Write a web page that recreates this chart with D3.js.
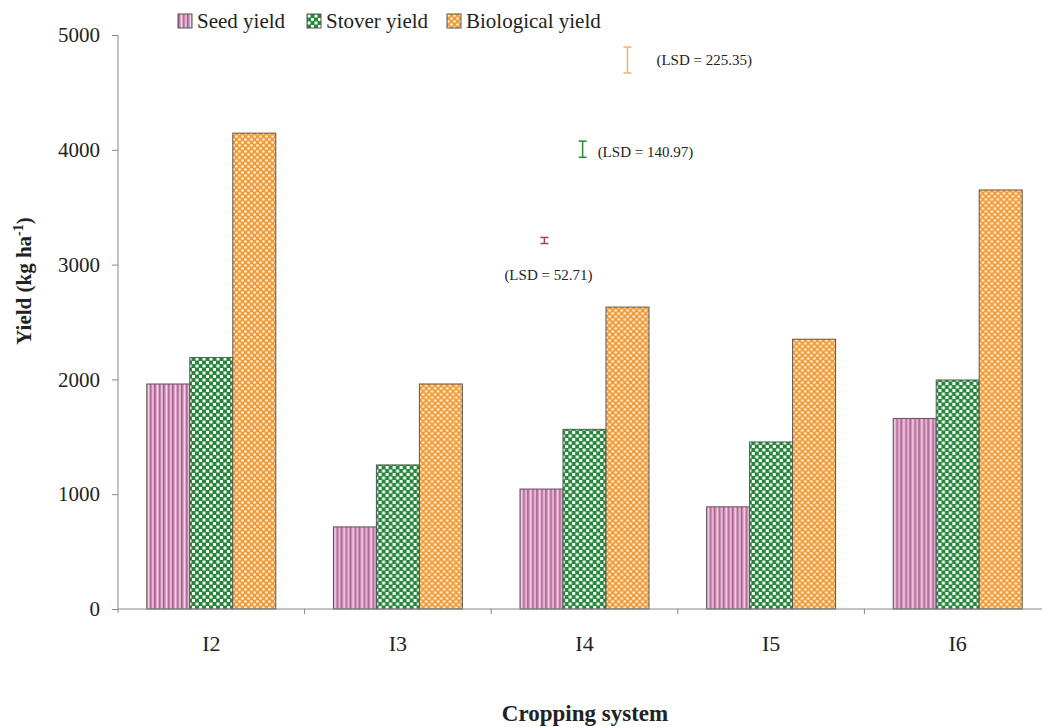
<!DOCTYPE html>
<html lang="en">
<head>
<meta charset="UTF-8">
<title>Yield by cropping system</title>
<script src="https://d3js.org/d3.v7.min.js"></script>
<style>
body { margin: 0; background: #fff; }
svg { display: block; font-family: "Liberation Serif", "Times New Roman", serif; }
</style>
</head>
<body>
<svg></svg>
<script>
// data
const systems = ["I2", "I3", "I4", "I5", "I6"];
const seedYield = [1960, 715, 1045, 890, 1660];
const stoverYield = [2190, 1255, 1565, 1455, 1995];
const bioYield = [4145, 1960, 2630, 2350, 3650];
const seriesNames = ["Seed yield", "Stover yield", "Biological yield"];
const yTicks = [0, 1000, 2000, 3000, 4000, 5000];
// LSD bars: value, centre on the y scale, label
const lsdValues = [52.71, 140.97, 225.35];
const lsdCentres = [3210, 4005, 4782];
const lsdLabels = ["(LSD = 52.71)", "(LSD = 140.97)", "(LSD = 225.35)"];

const width = 1042, height = 727;
const svg = d3.select("svg").attr("width", width).attr("height", height);

// patterns
const defs = svg.append("defs");
let p = defs.append("pattern").attr("id", "pat0").attr("patternUnits", "userSpaceOnUse")
  .attr("width", 9).attr("height", 4);
p.append("rect").attr("width", 9).attr("height", 4).attr("fill", "#d9a3c6");
p.append("rect").attr("x", 0).attr("width", 1.5).attr("height", 4).attr("fill", "#a9578a");
p.append("rect").attr("x", 3).attr("width", 1).attr("height", 4).attr("fill", "#f0d6e6");
p.append("rect").attr("x", 5).attr("width", 1.5).attr("height", 4).attr("fill", "#b8689a");
p.append("rect").attr("x", 7.5).attr("width", 1).attr("height", 4).attr("fill", "#eccbe0");

p = defs.append("pattern").attr("id", "pat1").attr("patternUnits", "userSpaceOnUse")
  .attr("width", 7).attr("height", 7);
p.append("rect").attr("width", 7).attr("height", 7).attr("fill", "#24873a");
p.append("rect").attr("x", 0.5).attr("y", 0.5).attr("width", 3).attr("height", 3).attr("fill", "#ffffff");
p.append("rect").attr("x", 4).attr("y", 4).attr("width", 3).attr("height", 3).attr("fill", "#ffffff");

p = defs.append("pattern").attr("id", "pat2").attr("patternUnits", "userSpaceOnUse")
  .attr("width", 6).attr("height", 6);
p.append("rect").attr("width", 6).attr("height", 6).attr("fill", "#f19c3a");
p.append("circle").attr("cx", 1.5).attr("cy", 1.5).attr("r", 1.3).attr("fill", "#fff3e0");
p.append("circle").attr("cx", 4.5).attr("cy", 4.5).attr("r", 1.3).attr("fill", "#fff3e0");

const fills = ["url(#pat0)", "url(#pat1)", "url(#pat2)"];
const lsdColors = ["#a0406f", "#2a8a3a", "#f0b070"];

// scales
const x = d3.scaleBand().domain(systems).range([118, 1051]).paddingInner(0).paddingOuter(0);
const x1 = d3.scaleBand().domain(seriesNames).range([0, x.bandwidth()]).paddingOuter(0.67);
const y = d3.scaleLinear().domain([0, 5000]).range([609, 35]);

const rows = systems.map((s, i) => ({
  system: s,
  values: [seedYield[i], stoverYield[i], bioYield[i]]
}));

// y axis
const yAxis = svg.append("g").attr("transform", "translate(118,0)")
  .call(d3.axisLeft(y).tickValues(yTicks).tickFormat(d3.format("d"))
    .tickSize(6).tickSizeOuter(0).tickPadding(12));
yAxis.select(".domain").attr("stroke", "#888").attr("d", "M0," + y(5000) + "V" + (y(0) + 4));
yAxis.selectAll(".tick line").attr("stroke", "#888");
yAxis.selectAll(".tick text").attr("font-size", 21).attr("fill", "#222")
  .attr("font-family", "Liberation Serif");

// bars
const groups = svg.append("g").selectAll("g").data(rows).enter().append("g")
  .attr("transform", d => "translate(" + x(d.system) + ",0)");
groups.selectAll("rect").data(d => d.values.map((v, j) => ({ name: seriesNames[j], v, j })))
  .enter().append("rect")
  .attr("x", d => x1(d.name))
  .attr("width", x1.bandwidth())
  .attr("y", d => y(d.v))
  .attr("height", d => y(0) - y(d.v))
  .attr("fill", d => fills[d.j])
  .attr("stroke", "#555")
  .attr("stroke-width", 1);

// x axis
svg.append("line").attr("x1", 118).attr("x2", x.range()[1])
  .attr("y1", y(0)).attr("y2", y(0)).attr("stroke", "#888");
svg.append("g").selectAll("line").data(systems.slice(1)).enter().append("line")
  .attr("x1", d => x(d)).attr("x2", d => x(d))
  .attr("y1", y(0)).attr("y2", y(0) + 5).attr("stroke", "#888");
svg.append("g").selectAll("text").data(systems).enter().append("text")
  .attr("x", d => x(d) + x.bandwidth() / 2)
  .attr("y", 651)
  .attr("text-anchor", "middle")
  .attr("font-size", 22).attr("fill", "#222")
  .text(d => d);

// axis titles
svg.append("text").attr("x", 585).attr("y", 721).attr("text-anchor", "middle")
  .attr("font-size", 23).attr("font-weight", "bold").attr("fill", "#222")
  .text("Cropping system");
const yt = svg.append("text").attr("transform", "translate(31,281) rotate(-90)")
  .attr("text-anchor", "middle").attr("font-size", 21).attr("font-weight", "bold").attr("fill", "#222");
yt.append("tspan").text("Yield (kg ha");
yt.append("tspan").attr("dy", -8).attr("font-size", 14).text("-1");
yt.append("tspan").attr("dy", 8).text(")");

// LSD markers, placed within the I4 band
const lsdX = [0.285, 0.49, 0.73].map(f => x("I4") + f * x.bandwidth());
const lsdLabelPos = [[-40, 40, "start"], [15, 8, "start"], [29, 5, "start"]];
lsdValues.forEach((v, i) => {
  const g = svg.append("g").attr("stroke", lsdColors[i]).attr("stroke-width", 1.5);
  const top = y(lsdCentres[i] + v / 2), bot = y(lsdCentres[i] - v / 2);
  g.append("line").attr("x1", lsdX[i]).attr("x2", lsdX[i]).attr("y1", top).attr("y2", bot);
  g.append("line").attr("x1", lsdX[i] - 4).attr("x2", lsdX[i] + 4).attr("y1", top).attr("y2", top);
  g.append("line").attr("x1", lsdX[i] - 4).attr("x2", lsdX[i] + 4).attr("y1", bot).attr("y2", bot);
  svg.append("text")
    .attr("x", lsdX[i] + lsdLabelPos[i][0])
    .attr("y", y(lsdCentres[i]) + lsdLabelPos[i][1])
    .attr("text-anchor", lsdLabelPos[i][2])
    .attr("font-size", 15).attr("fill", "#222")
    .text(lsdLabels[i]);
});

// legend
const legX = [178, 307, 447];
const legend = svg.append("g").selectAll("g").data(seriesNames).enter().append("g")
  .attr("transform", (d, i) => "translate(" + legX[i] + ",14)");
legend.append("rect").attr("width", 14).attr("height", 14)
  .attr("fill", (d, i) => fills[i]).attr("stroke", "#555");
legend.append("text").attr("x", 19).attr("y", 14).attr("font-size", 21).attr("fill", "#222")
  .text(d => d);
</script>
</body>
</html>
